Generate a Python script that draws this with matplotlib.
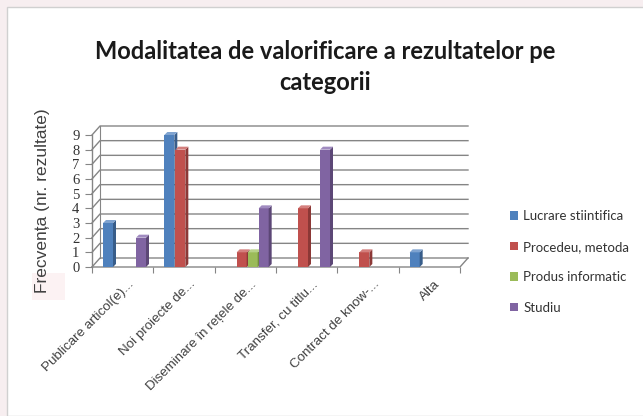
import numpy as np
import matplotlib
matplotlib.use("Agg")
import matplotlib.pyplot as plt
from matplotlib.patches import Polygon, Rectangle, Patch
from matplotlib.transforms import ScaledTranslation

# data
categories = ["Publicare articol(e)...", "Noi proiecte de...", "Diseminare în rețele de...",
              "Transfer, cu titlu...", "Contract de know-...", "Alta"]
series = ["Lucrare stiintifica", "Procedeu, metoda", "Produs informatic", "Studiu"]
lucrare = [3, 9, 0, 0, 0, 1]
procedeu = [0, 8, 1, 4, 1, 0]
produs = [0, 0, 1, 0, 0, 0]
studiu = [2, 0, 4, 8, 0, 0]
values = [lucrare, procedeu, produs, studiu]

front = ["#4F81BD", "#C0504D", "#9BBB59", "#8064A2"]
side = ["#385D8A", "#8C3836", "#71893F", "#5C4776"]
top = ["#7FA3D0", "#D47F7D", "#B8D18A", "#A08BC0"]

W, H = 643, 416
fig = plt.figure(figsize=(W / 100, H / 100), dpi=100)
fig.patch.set_facecolor("#f7eef0")
# white slide panel
fig.patches.append(Rectangle((7 / W, 0), 1, 1 - 7 / H, transform=fig.transFigure,
                             facecolor="white", edgecolor="#d0d0d0", lw=1, zorder=-2))
fig.patches.append(Rectangle((32 / W, (H - 300) / H), 33 / W, 27 / H, transform=fig.transFigure,
                             facecolor="#fcf2f3", edgecolor="none", zorder=-1))

ax = fig.add_axes([92 / W, (H - 267) / H, 368 / W, 132 / H])
ax.set_zorder(1)
ax.set_xlim(0, 6)
ax.set_ylim(0, 9)
ax.patch.set_alpha(0)
for s in ax.spines.values():
    s.set_visible(False)

# pixel -> data units
px_x = 6 / 368
px_y = 9 / 132
wx, wy = 8 * px_x, 9 * px_y      # wall depth
bx, by = 3 * px_x, 3 * px_y      # bar depth

grid_c = "#858585"
for v in range(10):
    ax.plot([0, wx, 6 + wx], [v, v + wy, v + wy], color=grid_c, lw=1, clip_on=False, zorder=1)
ax.plot([0, 0], [0, 9], color=grid_c, lw=1, clip_on=False, zorder=1)
ax.plot([wx, wx], [wy, 9 + wy], color=grid_c, lw=0.8, clip_on=False, zorder=1)
ax.plot([0, 6, 6 + wx], [0, 0, wy], color=grid_c, lw=1, clip_on=False, zorder=1)

bw = 10 * px_x
slot = 11 * px_x
z = 2
for i in range(len(categories)):
    for j in range(len(series)):
        v = values[j][i]
        if v <= 0:
            continue
        x0 = i + slot + slot * j
        ax.bar(x0, v, width=bw, align="edge", color=front[j], edgecolor="none",
               zorder=z, clip_on=False)
        ax.add_patch(Polygon([(x0 + bw, 0), (x0 + bw + bx, by), (x0 + bw + bx, v + by), (x0 + bw, v)],
                             closed=True, facecolor=side[j], edgecolor="none", zorder=z + 0.1,
                             clip_on=False))
        ax.add_patch(Polygon([(x0, v), (x0 + bx, v + by), (x0 + bw + bx, v + by), (x0 + bw, v)],
                             closed=True, facecolor=top[j], edgecolor="none", zorder=z + 0.2,
                             clip_on=False))
        z += 1

ax.set_yticks(range(10))
ax.set_yticklabels([str(k) for k in range(10)], fontfamily="Liberation Serif", fontsize=10.5,
                   color="#333333")
ax.tick_params(axis="y", length=5, color=grid_c, pad=4)

ax.set_xticks(range(7))
ax.set_xticklabels([])
ax.tick_params(axis="x", which="major", length=4, color=grid_c)
ax.set_xticks(np.arange(6) + 0.5, minor=True)
ax.set_xticklabels(categories, minor=True, rotation=45, ha="right", va="top",
                   rotation_mode="anchor", fontfamily="Liberation Sans", fontsize=9.6,
                   color="#404040")
ax.tick_params(axis="x", which="minor", length=0, pad=8)
shift = ScaledTranslation(5 / 100, 0, fig.dpi_scale_trans)
for lab in ax.get_xticklabels(minor=True):
    lab.set_transform(lab.get_transform() + shift)

ax.set_ylabel("Frecvența (nr. rezultate)", fontfamily="Liberation Sans", fontsize=12.5,
              color="#404040", labelpad=16)

fig.text(325 / W, 1 - 67 / H, "Modalitatea de valorificare a rezultatelor pe\ncategorii",
         ha="center", va="center", fontfamily="Lato", fontweight="bold", fontsize=17,
         color="#1a1a1a", linespacing=1.45)

handles = [Patch(facecolor=c, edgecolor="none") for c in front]
fig.legend(handles, series, loc="upper left", bbox_to_anchor=(505 / W, 1 - 205 / H),
           frameon=False, prop={"family": "Lato", "size": 9.5}, labelcolor="#333333",
           handlelength=0.6, handleheight=0.6, handletextpad=0.4, labelspacing=1.4,
           borderaxespad=0)

fig.savefig("out.png", dpi=100)
